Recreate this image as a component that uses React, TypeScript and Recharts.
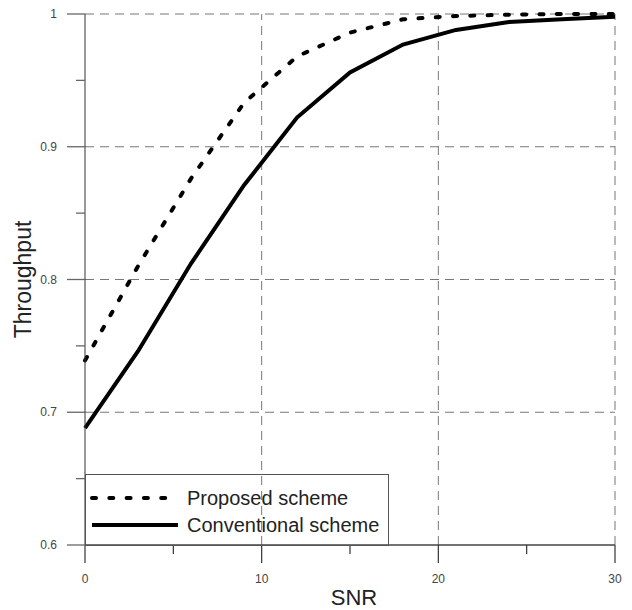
import React from "react";
import { LineChart, Line, XAxis, YAxis, ReferenceLine, Legend, Label } from "recharts";

// SNR sample points (dB)
const snr = [0, 3, 6, 9, 12, 15, 18, 21, 24, 27, 30];
const proposed = [0.739, 0.81, 0.876, 0.933, 0.968, 0.986, 0.996, 0.9985, 0.9995, 1.0, 1.0];
const conventional = [0.688, 0.746, 0.812, 0.871, 0.922, 0.956, 0.977, 0.988, 0.994, 0.996, 0.998];

const seriesNames = ["Proposed scheme", "Conventional scheme"];

const xTicks = [0, 5, 10, 15, 20, 25, 30];
const xMajor = [0, 10, 20, 30];
const yTicks = [0.6, 0.65, 0.7, 0.75, 0.8, 0.85, 0.9, 0.95, 1];
const yMajor = [0.6, 0.7, 0.8, 0.9, 1];
const xGrid = [10, 20, 30];
const yGrid = [0.7, 0.8, 0.9, 1];

const FONT = "'Liberation Sans', Arial, sans-serif";
const DASH = "4 13.3";

const data = snr.map((s, i) => ({
  snr: s,
  proposed: proposed[i],
  conventional: conventional[i],
}));

const XTick = (props: any) => {
  const { x, y, payload } = props;
  const major = xMajor.includes(payload.value);
  return (
    <g>
      <line x1={x} x2={x} y1={y} y2={y + (major ? 18 : 9)} stroke="#333" strokeWidth={1.2} />
      {major && (
        <text x={x} y={y + 38} textAnchor="middle" fontSize={12} fill="#444" fontFamily={FONT}>
          {payload.value}
        </text>
      )}
    </g>
  );
};

const YTick = (props: any) => {
  const { x, y, payload } = props;
  const major = yMajor.includes(payload.value);
  return (
    <g>
      <line x1={x - (major ? 18 : 9)} x2={x} y1={y} y2={y} stroke="#666" strokeWidth={1.3} />
      {major && (
        <text x={x - 28} y={y + 4} textAnchor="end" fontSize={12} fill="#444" fontFamily={FONT}>
          {String(payload.value)}
        </text>
      )}
    </g>
  );
};

// legend drawn in series order (recharts would sort it by name)
const LegendBox = () => (
  <svg width={304} height={72} style={{ display: "block", overflow: "visible" }}>
    <rect x={0.5} y={0.5} width={303} height={71} fill="none" stroke="#555" strokeWidth={1} />
    {seriesNames.map((name, i) => {
      const cy = 24 + i * 27;
      const dashed = i === 0;
      return (
        <g key={name}>
          <line
            x1={7}
            x2={dashed ? 85 : 93}
            y1={cy}
            y2={cy}
            stroke="#000"
            strokeWidth={4}
            strokeDasharray={dashed ? DASH : undefined}
            strokeLinecap={dashed ? "round" : "butt"}
          />
          <text x={102} y={cy + 7} fontSize={20} fill="#222" fontFamily={FONT}>
            {name}
          </text>
        </g>
      );
    })}
  </svg>
);

export default function App() {
  return (
    <div style={{ position: "absolute", left: 0, top: 0, background: "#fff" }}>
      <LineChart
        width={632}
        height={610}
        data={data}
        margin={{ top: 14, right: 17, bottom: 0, left: 0 }}
      >
        {xGrid.map((v) => (
          <ReferenceLine key={`x${v}`} x={v} stroke="#777" strokeDasharray="9 6" />
        ))}
        {yGrid.map((v) => (
          <ReferenceLine key={`y${v}`} y={v} stroke="#777" strokeDasharray="9 6" />
        ))}
        <XAxis
          dataKey="snr"
          type="number"
          domain={[0, 30]}
          ticks={xTicks}
          interval={0}
          height={65}
          tickSize={0}
          tickMargin={0}
          tickLine={false}
          tick={<XTick />}
          axisLine={{ stroke: "#444", strokeWidth: 1.6 }}
        >
          <Label
            content={(p: any) => {
              const vb = p.viewBox;
              return (
                <text
                  x={vb.x + vb.width / 2 + 4}
                  y={605}
                  textAnchor="middle"
                  fontSize={22}
                  fill="#222"
                  fontFamily={FONT}
                >
                  SNR
                </text>
              );
            }}
          />
        </XAxis>
        <YAxis
          type="number"
          domain={[0.6, 1]}
          ticks={yTicks}
          interval={0}
          width={85}
          tickSize={0}
          tickMargin={0}
          tickLine={false}
          tick={<YTick />}
          axisLine={{ stroke: "#333", strokeWidth: 1 }}
        >
          <Label
            content={(p: any) => {
              const vb = p.viewBox;
              const cx = 31;
              const cy = vb.y + vb.height / 2;
              return (
                <text
                  x={cx}
                  y={cy}
                  transform={`rotate(-90, ${cx}, ${cy})`}
                  textAnchor="middle"
                  fontSize={23}
                  fill="#222"
                  fontFamily={FONT}
                >
                  Throughput
                </text>
              );
            }}
          />
        </YAxis>
        <Legend
          layout="horizontal"
          align="center"
          verticalAlign="middle"
          content={<LegendBox />}
          wrapperStyle={{ position: "absolute", left: 85, top: 474, width: 304, height: 72 }}
        />
        <Line
          name={seriesNames[0]}
          dataKey="proposed"
          type="linear"
          stroke="#000"
          strokeWidth={4}
          strokeDasharray={DASH}
          strokeLinecap="round"
          dot={false}
          isAnimationActive={false}
        />
        <Line
          name={seriesNames[1]}
          dataKey="conventional"
          type="linear"
          stroke="#000"
          strokeWidth={4}
          dot={false}
          isAnimationActive={false}
        />
      </LineChart>
    </div>
  );
}
